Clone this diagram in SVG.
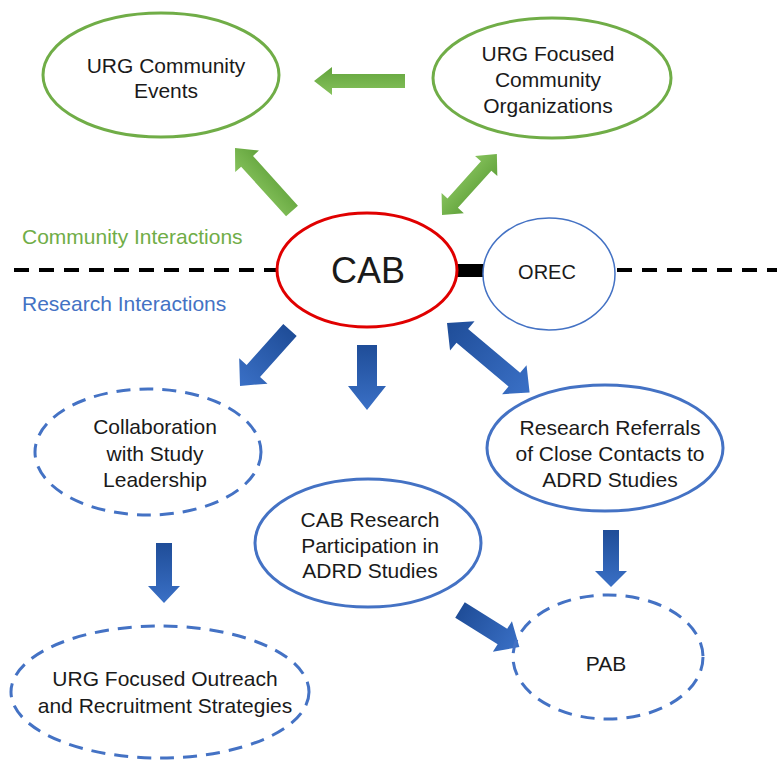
<svg xmlns="http://www.w3.org/2000/svg" width="777" height="761" viewBox="0 0 777 761">
<defs>
<linearGradient id="gG" x1="0" y1="0" x2="0" y2="1"><stop offset="0" stop-color="#86c25c"/><stop offset="1" stop-color="#62a33c"/></linearGradient>
<linearGradient id="gB" x1="0" y1="0" x2="1" y2="0"><stop offset="0" stop-color="#1f4d98"/><stop offset="1" stop-color="#3a70c6"/></linearGradient>
<style>
text{font-family:"Liberation Sans",Arial,sans-serif;font-size:21px;fill:#1a1a1a;text-anchor:middle}
.g{fill:none;stroke:#70ad47;stroke-width:3}
.b{fill:none;stroke:#4472c4;stroke-width:3}
.bd{fill:none;stroke:#4472c4;stroke-width:3;stroke-dasharray:14 9}
.ga{fill:url(#gG)}
.ba{fill:url(#gB)}
.sep{stroke:#000;stroke-width:4;stroke-dasharray:15 10}
</style>
</defs>
<rect width="777" height="761" fill="#fff"/>
<g id="separator">
<line class="sep" x1="14" y1="270" x2="277" y2="270"/>
<line class="sep" x1="617" y1="270" x2="777" y2="270"/>
</g>
<text x="22" y="244" style="text-anchor:start;fill:#70ad47">Community Interactions</text>
<text x="22" y="311" style="text-anchor:start;fill:#4472c4">Research Interactions</text>
<g id="connectors">
<rect x="455" y="264" width="30" height="13" fill="#000"/>
<polygon class="ga" transform="translate(405,81) rotate(180)" points="0,-7 73,-7 73,-14 91,0 73,14 73,7 0,7"/>
<polygon class="ga" transform="translate(292,211) rotate(-132.1)" points="0,-8 67,-8 67,-16 85,0 67,16 67,8 0,8"/>
<polygon class="ga" transform="translate(442,215) rotate(-48)" points="0,0 16,-15 16,-7 66,-7 66,-15 82,0 66,15 66,7 16,7 16,15"/>
<polygon class="ba" transform="translate(290,330) rotate(131.8)" points="0,-9 55,-9 55,-19 75,0 55,19 55,9 0,9"/>
<polygon class="ba" transform="translate(367,345) rotate(90)" points="0,-10 41,-10 41,-19 65,0 41,19 41,10 0,10"/>
<polygon class="ba" transform="translate(447,323) rotate(40.1)" points="0,0 20,-19 20,-9 88,-9 88,-19 108,0 88,19 88,9 20,9 20,19"/>
<polygon class="ba" transform="translate(164,543) rotate(90)" points="0,-8 43,-8 43,-16 60,0 43,16 43,8 0,8"/>
<polygon class="ba" transform="translate(611,530) rotate(90)" points="0,-8 41,-8 41,-16 57,0 41,16 41,8 0,8"/>
<polygon class="ba" transform="translate(460,610) rotate(32)" points="0,-9 50,-9 50,-18 70,0 50,18 50,9 0,9"/>
</g>
<g id="urg-events">
<ellipse class="g" cx="161" cy="75" rx="118" ry="62"/>
<text x="166" y="73">URG Community</text>
<text x="166" y="98">Events</text>
</g>
<g id="urg-orgs">
<ellipse class="g" cx="552" cy="78" rx="119" ry="60"/>
<text x="548" y="61">URG Focused</text>
<text x="548" y="87">Community</text>
<text x="548" y="113">Organizations</text>
</g>
<g id="cab">
<ellipse cx="367" cy="270" rx="90" ry="57" fill="#fff" stroke="#e00000" stroke-width="3"/>
<text x="368" y="283" style="font-size:36px">CAB</text>
</g>
<g id="orec">
<ellipse cx="549" cy="274" rx="66" ry="56" fill="#fff" stroke="#4472c4" stroke-width="1.5"/>
<text x="547" y="279" style="font-size:20px">OREC</text>
</g>
<g id="collab">
<ellipse class="bd" cx="148" cy="452" rx="113" ry="63"/>
<text x="155" y="434">Collaboration</text>
<text x="155" y="461">with Study</text>
<text x="155" y="487">Leadership</text>
</g>
<g id="cab-research">
<ellipse class="b" cx="368" cy="543" rx="113" ry="64"/>
<text x="370" y="527">CAB Research</text>
<text x="370" y="553">Participation in</text>
<text x="370" y="578">ADRD Studies</text>
</g>
<g id="referrals">
<ellipse class="b" cx="605" cy="448" rx="118" ry="63"/>
<text x="610" y="435">Research Referrals</text>
<text x="610" y="461">of Close Contacts to</text>
<text x="610" y="487">ADRD Studies</text>
</g>
<g id="pab">
<ellipse class="bd" cx="608" cy="657" rx="95" ry="62"/>
<text x="606" y="671">PAB</text>
</g>
<g id="outreach">
<ellipse class="bd" cx="160" cy="692" rx="149" ry="66"/>
<text x="165" y="686">URG Focused Outreach</text>
<text x="165" y="713">and Recruitment Strategies</text>
</g>
</svg>
